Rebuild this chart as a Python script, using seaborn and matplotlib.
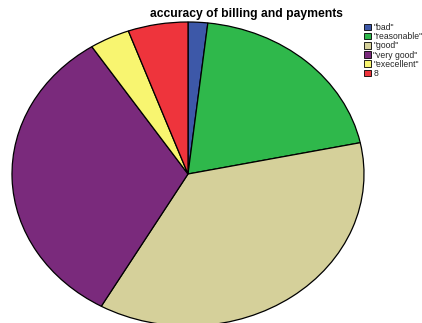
import matplotlib
matplotlib.use("Agg")
import matplotlib.pyplot as plt
import seaborn as sns

categories = ['"bad"', '"reasonable"', '"good"', '"very good"', '"execellent"', '8']
percentages = [1.8, 19.9, 36.5, 32.6, 3.7, 5.5]
slice_colors = ["#3d58a8", "#2fb84b", "#d5d09a", "#7a2a7c", "#f8f570", "#ee343c"]
title_text = "accuracy of billing and payments"

sns.set_theme(style="white")
plt.rcParams["font.family"] = ["Liberation Sans", "DejaVu Sans"]
palette = sns.color_palette(slice_colors)

W, H = 422, 323
fig = plt.figure(figsize=(W / 100, H / 100), dpi=100)
fig.patch.set_facecolor("white")

# elliptical pie: the axes box is wider than tall and aspect is left free
left_px, right_px, top_px, bottom_px = 12, 364, 22, 326
ax = fig.add_axes([left_px / W, (H - bottom_px) / H,
                   (right_px - left_px) / W, (bottom_px - top_px) / H])
wedges, _ = ax.pie(percentages, colors=palette, startangle=90, counterclock=False,
                   radius=1.0, center=(0, 0), normalize=True,
                   wedgeprops=dict(edgecolor="black", linewidth=0.9))
ax.set_xlim(-1, 1)
ax.set_ylim(-1, 1)
ax.set_aspect("auto")
ax.axis("off")

fig.text(246 / W, 1 - 14 / H, title_text, ha="center", va="center",
         fontsize=8.7, fontweight="bold", color="black")

leg = fig.legend(wedges, categories, loc="upper left",
                 bbox_to_anchor=(364 / W, 1 - 23 / H), frameon=False,
                 fontsize=6.2, handlelength=0.8, handleheight=0.8,
                 handletextpad=0.3, labelspacing=0.02, borderaxespad=0,
                 borderpad=0)
for h in leg.legend_handles:
    h.set_linewidth(0.6)
    h.set_edgecolor("black")

fig.savefig("out.png", dpi=100, facecolor="white")
